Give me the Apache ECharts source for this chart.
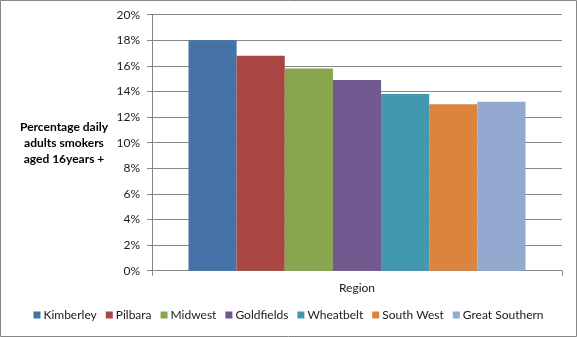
<!DOCTYPE html>
<html>
<head>
<meta charset="utf-8">
<script src="https://cdn.jsdelivr.net/npm/echarts@6/dist/echarts.min.js"></script>
<style>
html,body{margin:0;padding:0;background:#fff;}
#c{width:577px;height:337px;}
</style>
</head>
<body>
<div id="c"></div>
<script>
const categories = ["Region"];
const regions = ["Kimberley","Pilbara","Midwest","Goldfields","Wheatbelt","South West","Great Southern"];
const values = [18.0, 16.8, 15.8, 14.9, 13.8, 13.0, 13.2];
const colors = ["#4572A7","#AA4643","#89A54E","#71588F","#4198AF","#DB843D","#93A9CF"];
const yAxisTitle = ["Percentage daily","adults smokers","aged 16years +"];

const FONT = "Lato, 'Open Sans', sans-serif";
const chart = echarts.init(document.getElementById('c'), null, {renderer:'canvas'});
chart.setOption({
  animation:false,
  backgroundColor:'#fff',
  textStyle:{fontFamily:FONT},
  grid:{left:152, right:15, top:14.7, bottom:66.3, containLabel:false},
  xAxis:{
    type:'category',
    data:categories,
    axisLine:{lineStyle:{color:'#868686',width:1}},
    axisTick:{show:true,length:5,lineStyle:{color:'#868686'}},
    axisLabel:{color:'#1a1a1a',fontSize:12,margin:11,fontFamily:FONT}
  },
  yAxis:{
    type:'value',
    min:0,max:20,interval:2,
    axisLine:{show:true,lineStyle:{color:'#868686',width:1}},
    axisTick:{show:true,length:5,lineStyle:{color:'#868686'}},
    axisLabel:{formatter:'{value}%',color:'#1a1a1a',fontSize:12,margin:12,fontFamily:FONT},
    splitLine:{show:true,lineStyle:{color:'#868686',width:1}}
  },
  legend:{
    bottom:11,
    left:'center',
    itemWidth:7,itemHeight:7,itemGap:9,
    icon:'rect',
    textStyle:{color:'#1a1a1a',fontSize:12,fontFamily:FONT,padding:[0,0,0,-2]},
    data:regions
  },
  graphic:[
    {type:'rect',shape:{x:0.5,y:0.5,width:576,height:336},style:{fill:'none',stroke:'#868686',lineWidth:1},silent:true,z:100},
    {type:'text',x:64,y:143,style:{text:yAxisTitle.join('\n'),fill:'#000',font:"bold 12px "+FONT,align:'center',verticalAlign:'middle',lineHeight:16}}
  ],
  series: regions.map((r,i)=>({
    name:r,
    type:'bar',
    data:[values[i]],
    barGap:'0%',
    barCategoryGap:'17.8%',
    itemStyle:{color:colors[i]}
  }))
});
</script>
</body>
</html>
